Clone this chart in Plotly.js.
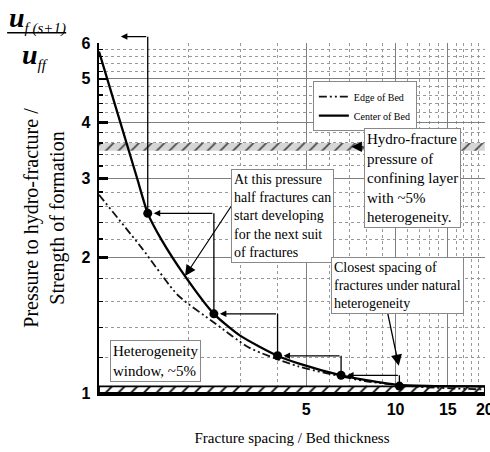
<!DOCTYPE html>
<html><head><meta charset="utf-8">
<script src="https://cdn.plot.ly/plotly-3.0.1.min.js"></script>
<style>html,body{margin:0;padding:0;background:#fff}#chart{width:490px;height:452px}</style>
</head><body><div id="chart"></div>
<script>
// ---- data ----
const centerX = [1, 1.18, 1.345, 1.46, 1.62, 1.95, 2.44, 3.0, 4.0, 4.7, 6.55, 7.87, 10.3, 14, 20];
const centerY = [5.75, 4.0, 3.0, 2.51, 2.2, 1.82, 1.5, 1.34, 1.21, 1.164, 1.095, 1.07, 1.042, 1.036, 1.034];
const edgeX = [1, 1.395, 1.845, 2.46, 3.22, 4.7, 7.87, 12, 20];
const edgeY = [2.76, 2.10, 1.65, 1.43, 1.26, 1.146, 1.063, 1.032, 1.018];
const stepX = [1.46, 2.44, 4.0, 6.55, 10.3];
const stepY = [2.51, 1.5, 1.21, 1.095, 1.036];
const stepTopX = 1.185, stepTopY = 6.2;
const bandLow = [1, 1.035];
const bandHigh = [3.46, 3.6];
const xRange = [1, 20];
const yRange = [1, 6];
const xTickVals = [5, 10, 15, 20];
const xTickText = ['5', '10', '15', '20'];
const xMinorVals = [2, 3, 4, 6, 7, 8, 9, 11, 12, 13, 14, 16, 17, 18, 19];
const yTickVals = [1, 2, 3, 4, 5, 6];
const yTickText = ['1', '2', '3', '4', '5', '6'];
const yMinorVals = [1.2, 1.4, 1.6, 1.8, 2.2, 2.4, 2.6, 2.8, 3.2, 3.4, 3.6, 3.8, 4.2, 4.4, 4.6, 4.8, 5.2, 5.4, 5.6, 5.8];

const L = Math.log10;
const serif = 'Liberation Serif, Times New Roman, serif';
const sans = 'Liberation Sans, Arial, sans-serif';
const yLo = L(yRange[0]), yHi = L(yRange[1]);
function yPaper(v) { return (L(v) - yLo) / (yHi - yLo); }

function bandTrace(b, fg, bg, lineW, sol) {
  return {
    x: [xRange[0], xRange[1], xRange[1], xRange[0], xRange[0]],
    y: [b[0], b[0], b[1], b[1], b[0]],
    mode: 'lines', fill: 'toself', showlegend: false, hoverinfo: 'skip',
    line: {color: lineW ? '#000' : 'rgba(0,0,0,0)', width: lineW || 0},
    fillcolor: bg,
    fillpattern: {shape: '/', fgcolor: fg, bgcolor: bg, size: 9, solidity: sol}
  };
}

const traces = [
  bandTrace(bandHigh, '#444', '#d6d6d6', 0, 0.18),
  bandTrace(bandLow, '#000', '#ffffff', 1.8, 0.2),
  {x: edgeX, y: edgeY, name: 'Edge of Bed', mode: 'lines', line: {color: '#111', width: 1.8, dash: '8px,3px,2px,3px,2px,3px', shape: 'spline', smoothing: 0.6}},
  {x: centerX, y: centerY, name: 'Center of Bed', mode: 'lines', line: {color: '#000', width: 2.3, shape: 'spline', smoothing: 0.6}},
  {x: stepX, y: stepY, mode: 'markers', showlegend: false, marker: {color: '#000', size: 9}}
];

const ann = [];
function arrow(hx, hy, tx, ty, head, size, width, standoff) {
  ann.push({x: L(hx), y: L(hy), ax: L(tx), ay: L(ty), xref: 'x', yref: 'y', axref: 'x', ayref: 'y',
    text: '', showarrow: true, arrowhead: head, arrowsize: size, arrowwidth: width, arrowcolor: '#000', standoff: standoff || 0});
}
// staircase built from step points
arrow(stepX[0], stepTopY, stepX[0], stepY[0], 0, 1, 1.3, 0);
ann.push({x: L(stepTopX), y: yPaper(stepTopY), xref: 'x', yref: 'paper', axref: 'x', ax: L(stepX[0]), ayref: 'pixel', ay: 0,
  text: '', showarrow: true, arrowhead: 2, arrowsize: 1, arrowwidth: 1.3, arrowcolor: '#000', standoff: 0});
for (let k = 1; k < stepX.length; k++) {
  arrow(stepX[k], stepY[k - 1], stepX[k], stepY[k], 0, 1, 1.3, 0);
  arrow(stepX[k - 1], stepY[k - 1], stepX[k], stepY[k - 1], 2, 1, 1.3, 6);
}
// pointer arrows from the text boxes
arrow(7.1, 3.53, 7.87, 3.53, 2, 1.6, 1.3, 0);
arrow(1.95, 1.82, 2.83, 2.64, 2, 1.8, 1.2, 0);
arrow(10.25, 1.15, 9.33, 1.545, 2, 1.7, 1.3, 0);

function box(text, xp, yp, size) {
  ann.push({text: text, xref: 'paper', yref: 'paper', x: xp, y: yp, xanchor: 'left', yanchor: 'top',
    align: 'left', showarrow: false, bgcolor: '#fff', bordercolor: '#888', borderwidth: 1, borderpad: 2,
    font: {family: serif, size: size, color: '#000'}});
}
box('At this pressure<br>half fractures can<br>start developing<br>for the next suit<br>of fractures', 0.342, 0.64, 14);
box('Hydro-fracture<br>pressure of<br>confining layer<br>with ~5%<br>heterogeneity.', 0.687, 0.757, 15);
box('Closest spacing of<br>fractures under natural<br>heterogeneity', 0.601, 0.389, 14);
box('Heterogeneity<br>window, ~5%', 0.0285, 0.151, 15);

// fraction label u_f(s+1) / u_ff
ann.push({text: '<b><i>u</i></b><sub><span style="font-size:15px"><i>f (s+1)</i></span></sub>', xref: 'paper', yref: 'paper', x: -0.238, y: 1.068,
  xanchor: 'left', yanchor: 'middle', showarrow: false, font: {family: serif, size: 28, color: '#000'}});
ann.push({text: '<b><i>u</i></b><sub><span style="font-size:15px"><i>ff</i></span></sub>', xref: 'paper', yref: 'paper', x: -0.165, y: 0.962,
  xanchor: 'center', yanchor: 'middle', showarrow: false, font: {family: serif, size: 28, color: '#000'}});

const layout = {
  width: 490, height: 452,
  margin: {l: 99, r: 5, t: 43, b: 59},
  paper_bgcolor: '#fff', plot_bgcolor: '#fff',
  showlegend: true,
  legend: {x: 0.554, y: 0.891, xanchor: 'left', yanchor: 'top', bgcolor: '#fff', bordercolor: '#888', borderwidth: 1,
    font: {family: serif, size: 10, color: '#000'}, traceorder: 'normal'},
  xaxis: {type: 'log', range: [L(xRange[0]), L(xRange[1]) + 0.0005], tickmode: 'array', tickvals: xTickVals, ticktext: xTickText,
    showgrid: true, gridcolor: '#808080', gridwidth: 1, zeroline: false, ticklabeloverflow: 'allow',
    minor: {tickmode: 'array', tickvals: xMinorVals, showgrid: true, gridcolor: '#999', griddash: 'dot', gridwidth: 1, ticks: ''},
    showline: true, linecolor: '#000', linewidth: 2.5, ticks: '',
    tickfont: {family: sans, size: 16, color: '#000', weight: 'bold'},
    title: {text: 'Fracture spacing / Bed thickness', font: {family: serif, size: 15, color: '#000'}, standoff: 16}},
  yaxis: {type: 'log', range: [yLo, yHi + 0.0005], tickmode: 'array', tickvals: yTickVals, ticktext: yTickText,
    showgrid: true, gridcolor: '#808080', gridwidth: 1, zeroline: false,
    minor: {tickmode: 'array', tickvals: yMinorVals, showgrid: true, gridcolor: '#999', griddash: 'dot', gridwidth: 1,
      ticks: 'inside', ticklen: 4, tickwidth: 1.2, tickcolor: '#000'},
    showline: true, linecolor: '#000', linewidth: 2.5, ticks: 'inside', ticklen: 9, tickwidth: 2.5, tickcolor: '#000',
    ticklabelstandoff: 3,
    tickfont: {family: sans, size: 16, color: '#000', weight: 'bold'},
    title: {text: 'Pressure to hydro-fracture /<br>Strength of formation', font: {family: serif, size: 20, color: '#000'}, standoff: 12}},
  annotations: ann,
  shapes: [{type: 'line', xref: 'paper', yref: 'paper', x0: -0.238, x1: -0.085, y0: 1.029, y1: 1.029, line: {color: '#000', width: 1.5}}]
};

Plotly.newPlot('chart', traces, layout, {displayModeBar: false, staticPlot: true});
</script>
</body></html>
